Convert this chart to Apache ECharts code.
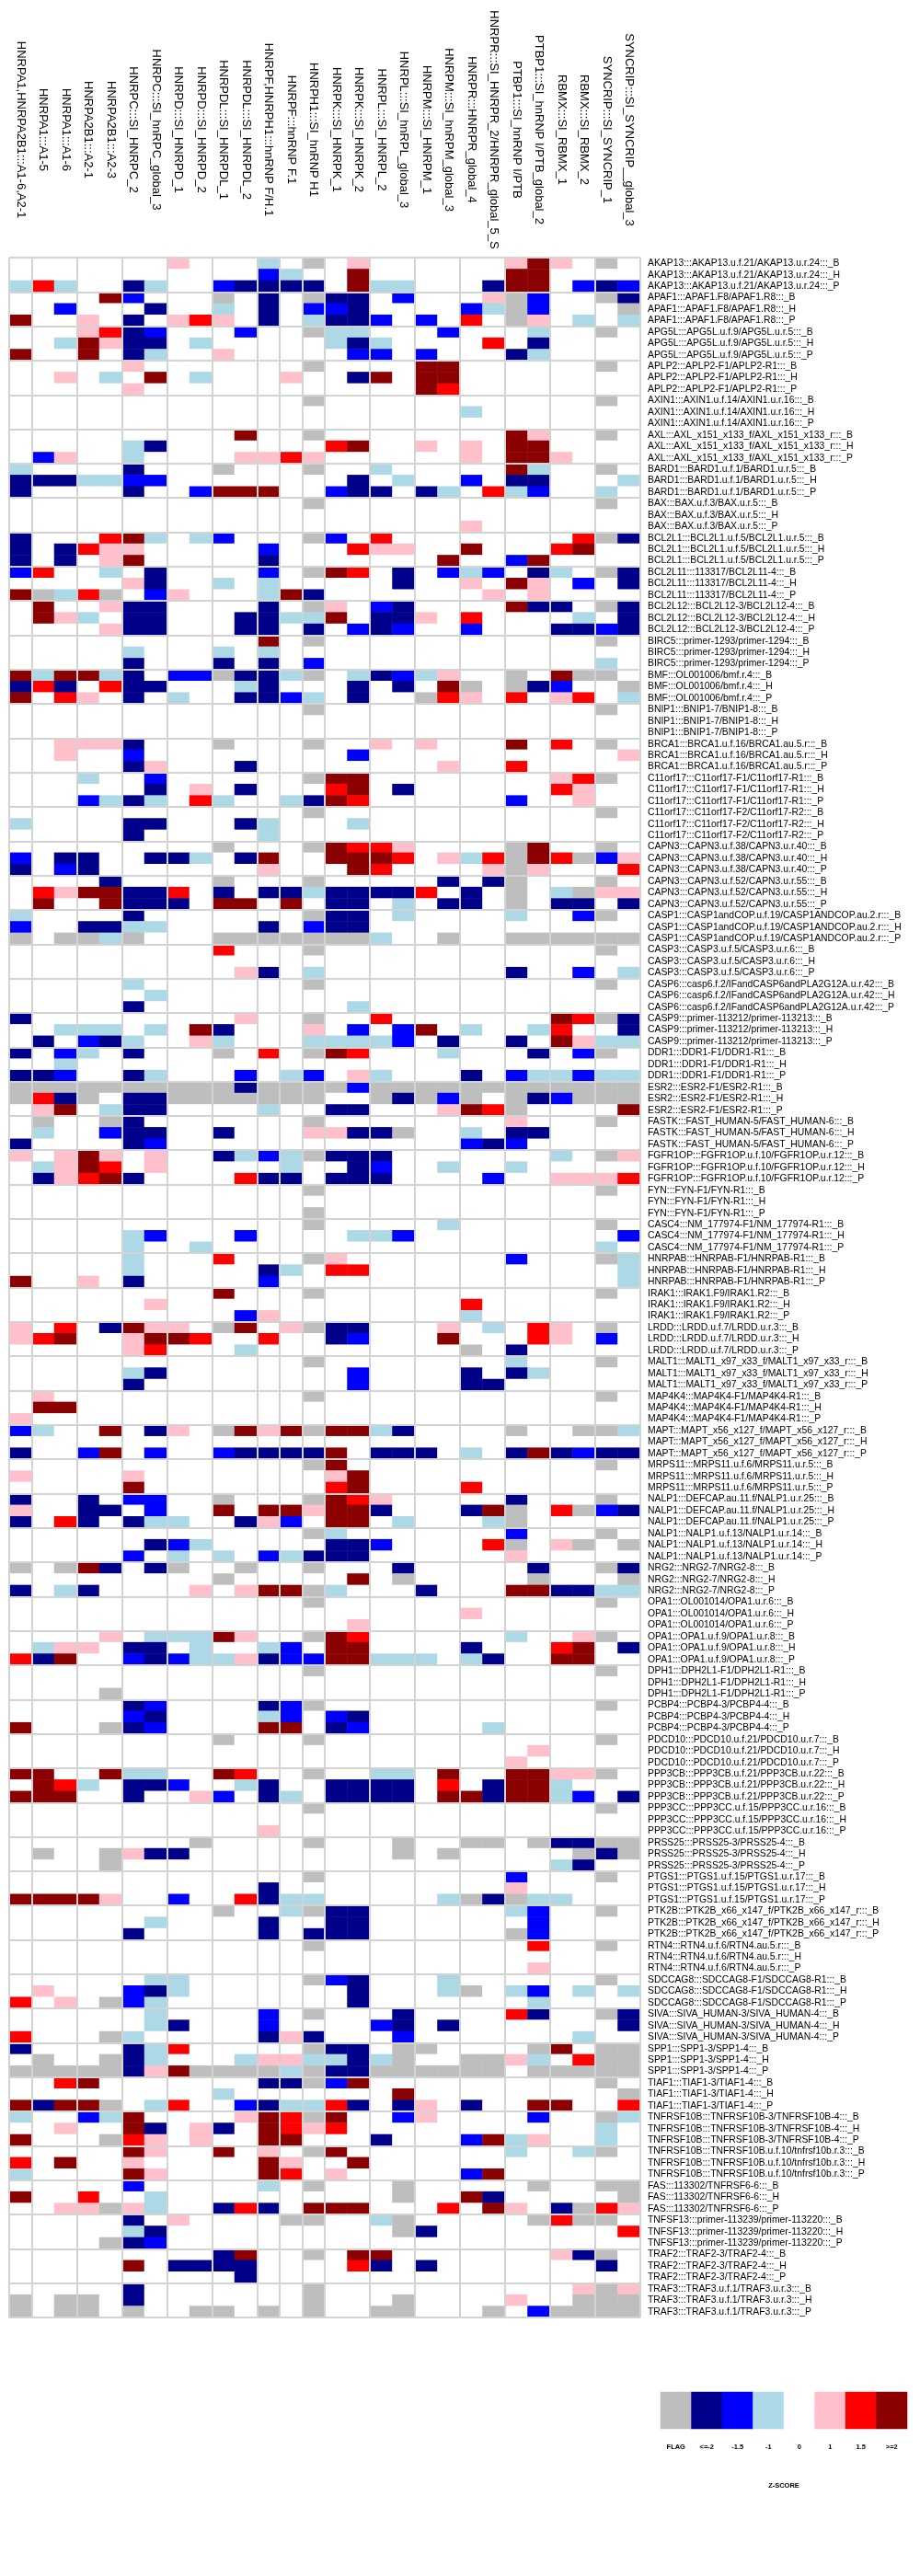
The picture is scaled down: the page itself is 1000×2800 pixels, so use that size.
<!DOCTYPE html>
<html>
<head>
<meta charset="utf-8">
<title>Z-score heatmap</title>
<script src="https://cdn.jsdelivr.net/npm/echarts@6/dist/echarts.min.js"></script>
<style>
html, body { margin: 0; padding: 0; background: #fff; }
#main { width: 1000px; height: 2800px; }
</style>
</head>
<body>
<div id="main"></div>
<script>
var columnLabels = [
    'HNRPA1,HNRPA2B1:::A1-6,A2-1', 'HNRPA1:::A1-5', 'HNRPA1:::A1-6', 'HNRPA2B1:::A2-1', 'HNRPA2B1:::A2-3',
    'HNRPC:::SI_HNRPC_2', 'HNRPC:::SI_hnRPC_global_3', 'HNRPD:::SI_HNRPD_1', 'HNRPD:::SI_HNRPD_2',
    'HNRPDL:::SI_HNRPDL_1', 'HNRPDL:::SI_HNRPDL_2', 'HNRPF,HNRPH1:::hnRNP F/H.1', 'HNRPF:::hnRNP F.1',
    'HNRPH1:::SI_hnRNP H1', 'HNRPK:::SI_HNRPK_1', 'HNRPK:::SI_HNRPK_2', 'HNRPL:::SI_HNRPL_2',
    'HNRPL:::SI_hnRPL_global_3', 'HNRPM:::SI_HNRPM_1', 'HNRPM:::SI_hnRPM_global_3', 'HNRPR:::HNRPR_global_4',
    'HNRPR:::SI_HNRPR_2/HNRPR_global_5_S', 'PTBP1:::SI_hnRNP I/PTB', 'PTBP1:::SI_hnRNP I/PTB_global_2',
    'RBMX:::SI_RBMX_1', 'RBMX:::SI_RBMX_2', 'SYNCRIP:::SI_SYNCRIP_1', 'SYNCRIP:::SI_SYNCRIP__global_3'
];
// last column of each gene group, these get a separator line
var columnGroupEnds = [1, 3, 5, 7, 9, 11, 12, 13, 14, 16, 18, 20, 22, 24, 26, 28];

var assays = [
    'AKAP13:::AKAP13.u.f.21/AKAP13.u.r.24', 'APAF1:::APAF1.F8/APAF1.R8', 'APG5L:::APG5L.u.f.9/APG5L.u.r.5',
    'APLP2:::APLP2-F1/APLP2-R1', 'AXIN1:::AXIN1.u.f.14/AXIN1.u.r.16', 'AXL:::AXL_x151_x133_f/AXL_x151_x133_r',
    'BARD1:::BARD1.u.f.1/BARD1.u.r.5', 'BAX:::BAX.u.f.3/BAX.u.r.5', 'BCL2L1:::BCL2L1.u.f.5/BCL2L1.u.r.5',
    'BCL2L11:::113317/BCL2L11-4', 'BCL2L12:::BCL2L12-3/BCL2L12-4', 'BIRC5:::primer-1293/primer-1294',
    'BMF:::OL001006/bmf.r.4', 'BNIP1:::BNIP1-7/BNIP1-8', 'BRCA1:::BRCA1.u.f.16/BRCA1.au.5.r',
    'C11orf17:::C11orf17-F1/C11orf17-R1', 'C11orf17:::C11orf17-F2/C11orf17-R2', 'CAPN3:::CAPN3.u.f.38/CAPN3.u.r.40',
    'CAPN3:::CAPN3.u.f.52/CAPN3.u.r.55', 'CASP1:::CASP1andCOP.u.f.19/CASP1ANDCOP.au.2.r', 'CASP3:::CASP3.u.f.5/CASP3.u.r.6',
    'CASP6:::casp6.f.2/IFandCASP6andPLA2G12A.u.r.42', 'CASP9:::primer-113212/primer-113213', 'DDR1:::DDR1-F1/DDR1-R1',
    'ESR2:::ESR2-F1/ESR2-R1', 'FASTK:::FAST_HUMAN-5/FAST_HUMAN-6', 'FGFR1OP:::FGFR1OP.u.f.10/FGFR1OP.u.r.12',
    'FYN:::FYN-F1/FYN-R1', 'CASC4:::NM_177974-F1/NM_177974-R1', 'HNRPAB:::HNRPAB-F1/HNRPAB-R1',
    'IRAK1:::IRAK1.F9/IRAK1.R2', 'LRDD:::LRDD.u.f.7/LRDD.u.r.3', 'MALT1:::MALT1_x97_x33_f/MALT1_x97_x33_r',
    'MAP4K4:::MAP4K4-F1/MAP4K4-R1', 'MAPT:::MAPT_x56_x127_f/MAPT_x56_x127_r', 'MRPS11:::MRPS11.u.f.6/MRPS11.u.r.5',
    'NALP1:::DEFCAP.au.11.f/NALP1.u.r.25', 'NALP1:::NALP1.u.f.13/NALP1.u.r.14', 'NRG2:::NRG2-7/NRG2-8',
    'OPA1:::OL001014/OPA1.u.r.6', 'OPA1:::OPA1.u.f.9/OPA1.u.r.8', 'DPH1:::DPH2L1-F1/DPH2L1-R1',
    'PCBP4:::PCBP4-3/PCBP4-4', 'PDCD10:::PDCD10.u.f.21/PDCD10.u.r.7', 'PPP3CB:::PPP3CB.u.f.21/PPP3CB.u.r.22',
    'PPP3CC:::PPP3CC.u.f.15/PPP3CC.u.r.16', 'PRSS25:::PRSS25-3/PRSS25-4', 'PTGS1:::PTGS1.u.f.15/PTGS1.u.r.17',
    'PTK2B:::PTK2B_x66_x147_f/PTK2B_x66_x147_r', 'RTN4:::RTN4.u.f.6/RTN4.au.5.r', 'SDCCAG8:::SDCCAG8-F1/SDCCAG8-R1',
    'SIVA:::SIVA_HUMAN-3/SIVA_HUMAN-4', 'SPP1:::SPP1-3/SPP1-4', 'TIAF1:::TIAF1-3/TIAF1-4',
    'TNFRSF10B:::TNFRSF10B-3/TNFRSF10B-4', 'TNFRSF10B:::TNFRSF10B.u.f.10/tnfrsf10b.r.3', 'FAS:::113302/TNFRSF6-6',
    'TNFSF13:::primer-113239/primer-113220', 'TRAF2:::TRAF2-3/TRAF2-4', 'TRAF3:::TRAF3.u.f.1/TRAF3.u.r.3'
];
var tissues = ['B', 'H', 'P'];

// z-score class per cell, one line per row, spaces only split the gene groups
// F flag, n <=-2, b -1.5, l -1, . 0, p 1, r 1.5, d >=2
var zRows = [
    '. .. .. .. p. .. l . F .p .. .. .. pd p. F.',
    '. .. .. .. .. .. b l . .d .. .. .. dd .. ..',
    'l rl .. nl .. bn n n n .d ll .. .n dd .b nb',
    '. .. .d b. .. F. n . F nn .b .. .p Fb .. Fn',
    '. .b .. .n .. l. n . b bn .. .. bl Fb .. .F',
    'd .. p. n. pr p. n . l nn b. b. r. Fp .l .l',
    '. .. pr nb .. .b . . F ll .. .b .. .l .. F.',
    '. .l dp nn .l .. . . . ln l. .. .r .n .. ..',
    'd .. d. nl .. p. . . . .b b. b. .. nl .. ..',
    '. .. .. p. .. .. . . F .. .. dd .. .. .. F.',
    '. .p .l .d .l .. . p . .n d. dd .. .. .. ..',
    '. .. .. p. .. .. . . . .. .. dr .. .. .. ..',
    '. .. .. .. .. .. . . F .. .. .. .. .. .. F.',
    '. .. .. .. .. .. . . . .. .. .. l. .. .. ..',
    '. .. .. .. .. .. . . . .. .. .. .. .. .. ..',
    '. .. .. .. .. .d . . F .. .. .. .. dp .. F.',
    '. .. .. ln .. .. . . . rd .. p. p. dd .. ..',
    '. bp .. l. .. .p p r p .. .. .. p. dd p. ..',
    'l .. .. n. .. F. . . F .. l. .. .. dl .. F.',
    'n nn ll bb .. .. . . . .n .l .. b. nn .. .l',
    'n .. .. n. .b dd d . . bn n. nl .r lb .. l.',
    '. .. .. .. .. .. . . F .. .. .. .. .. .. F.',
    '. .. .. .. .. .. . . . .. .. .. .. .. .. ..',
    '. .. .. .. .. .. . . . .. .. .. p. .. .. ..',
    'n .. .r dl .l b. . . F b. r. .. .. .. .r Fn',
    'n .n rp p. .. .. b . . .r pp .. d. .. rd ..',
    'n .n .p d. .. .. n . . .. .. .d .. bd .. ..',
    'b r. .l .n .. .. b . F dr .n .b lb .n l. Fn',
    '. .. .. pn .. l. l . . .. .n .. p. dp .b .n',
    'd Fl rF .b p. .. l d n .. .. .. .p .p .. ..',
    '. d. .p nn .. .. n . F p. bn .. .. dn n. Fn',
    '. dp l. nn .. .n n l l d. nn p. r. .. .l .n',
    '. .. .p nn .. .n n . n .b nb .. b. .. nn bn',
    '. .. .. .. .. .. d . F .. .. .. .. .. .. F.',
    '. .. .. l. .. l. l . . .. .. .. .. .. .. ..',
    '. .. .. n. .. n. n . b .. .. .. .. .. .. l.',
    'd ld dl n. bb Fn n l F .l nb lp .. F. dF F.',
    'n rn .r nn .. .l n . . .n .n .d F. Fn b. .F',
    'd .r p. n. l. .n n b l .n .. Fr p. r. pr .l',
    '. .. .. .. .. .. . . F .. .. .. .. .. .. F.',
    '. .. .. .. .. .. . . . .. .. .. .. .. .. ..',
    '. .. .. .. .. .. . . . .. .. .. .. .. .. ..',
    '. .p pp n. .. F. . . F .. p. p. .. d. r. F.',
    '. .p .. b. .. .. . . . .b .. .. .. .. .. .p',
    '. .. .. np .. .n . . . .. .. .p .. r. .. ..',
    '. .. l. .b .. .. . . F dd .. .. .. .. pr F.',
    '. .. .. .n .p .n . . . rd .n .. .. .. rp ..',
    '. .. bl nl .r l. . l n dr .. .. .. b. .p ..',
    '. .. .. .. .. .. . . F .. .. .. .. .. .. F.',
    'l .. .. nn .. .n l . . .l .. .. .. .. .. ..',
    '. .. .. n. .. .. l . . .. .. .. .. .. .. ..',
    '. .. .. .. .. F. . . F dr rp .. .. Fd .. F.',
    'b .n n. .n nl .n d . . dd dr .p lr Fd rF bp',
    'n .b n. .. .. .. p . . .d r. .. .p Fp .. .r',
    '. .. .n .. .. F. . . F .. .. .n .n F. .. F.',
    '. rp dd nn r. n. n n l nn nn r. n. F. lF pp',
    '. d. .d nn n. dd . d . nn .l .n n. F. nn .n',
    'l .. .. n. .. .. . . F nn .l .. .. l. .b F.',
    'b .. nn ll .. .. n . b nn .. .. .. .. .. ..',
    'F .F Fl F. .. FF F F F FF l. .F .. FF FF FF',
    '. .. .. .. .. r. . . F .. .. .. .. .. .. F.',
    '. .. .. .. .. .. . . . .. .. .. .. .. .. ..',
    '. .. .. .. .. .p n . l .. .. .. .. n. .b .l',
    '. .. .. l. .. .. . . F .. .. .. .. .. .. F.',
    '. .. .. .l .. .. . . . .. .. .. .. .. .. ..',
    '. .. .. n. .. .. . . . .l .. .. .. .. .. ..',
    'n .. .. .. .. .p . . F .. r. .. .. .. dr Fn',
    '. .l ll .l .d n. . . p .b .b d. l. .l r. .n',
    '. n. bn l. .p l. . . l ll lb .n .. n. dp ll',
    'n .b l. n. .. F. r . F dr .. .l .. .n .b F.',
    '. .l .. .. .. .. . . . .. .. .. .. .. .. ..',
    'n nb .. nl .. .b . l b .p l. .. n. bl lb ll',
    'F FF FF FF FF Fn F F F Fb FF FF FF FF FF FF',
    'F rn F. nn FF FF F F F .. Fn Fb F. Fn bF FF',
    '. pd .l nn .. .. l . . nn .. .p dr F. .. .d',
    '. F. .F n. .. .. . . F .. .. .. .. p. .. F.',
    '. l. .b nn .. n. . . p pn nF .. l. nn .. ..',
    'n .. .. nb .. .. . . . .. .. .. bn b. .. ..',
    'p .p dp .p .. nl b l F nn n. .. .. .. l. Fp',
    '. lp dr .p .. .. . l . .n b. .l .. l. .. ..',
    '. np rd n. .. .r n n . nn n. .. .b .. pp pr',
    '. .. .. .. .. .. . . F .. .. .. .. .. .. F.',
    '. .. .. .. .. .. . . . .. .. .. .. .. .. ..',
    '. .. .. .. .. .. . . F .. .. .. .. .. .. ..',
    '. .. .. .. .. .. . . F .. .. .l .. .. .. F.',
    '. .. .. lb .. .b . . . .l lb .. .. .. .. .b',
    '. .. .. l. .l .. . . . .. .. .. .. .. .. l.',
    '. .. .. l. .. r. . . F p. .. .. .. b. .. Fl',
    '. .. .. l. .. .. n l . rr .. .. .. .. .. .l',
    'd .. p. n. .. .. b . . .. .. .. .. .. .. .l',
    '. .. .. .. .. d. . . F .. .. .. .. .. .. F.',
    '. .. .. .p .. .. . . . .. .. .. r. .. .. ..',
    '. .. .. .. .. .b p . . .. .. .. l. .. .. ..',
    'p .r .n dp p. Fd . p F nn .. .p .l .r p. F.',
    'p rd .. pd dr .. r . . nb .. .d .. .r p. b.',
    '. .. .. pr .. .l . . . .. .. .. F. n. .. ..',
    '. .. .. .. .. .. . . F .. .. .. .. l. .. F.',
    '. .. .. ln .. .. . . . .b .. .. n. nl .. ..',
    '. .. .. n. .. .. . . . .b .. .. nn .. .. ..',
    '. p. .. .. .. .. . . F .. .. .. .. .. .. F.',
    '. dd .. .. .. .. . . . .. .. .. .. .. .. ..',
    'p .. .. .. .. .. . . . .. .. .. .. .. .. ..',
    'b l. .d .n p. Fd p d F dd ln .. .. F. .F Fl',
    '. .. .. .. .. .. . . . .. .. .. .. .. .. ..',
    'n .. bd .b .. bn n n n d. nn n. l. nd nb nn',
    '. .. .. .. .. .. . . F d. .. .. .. .. .. F.',
    'p .. .. p. .. .. . . . pd .. .. .. .. .. ..',
    '. .. .. d. .. .. . . . rd .. .. r. .. .. ..',
    'n .. n. bb .. F. . . F dr p. .. .. n. .. F.',
    'p .. nn .b .. d. d d p dd n. .. nd F. rF bn',
    'n .r n. nl l. .n p b . dd .l .. .l F. .. ..',
    '. .. .. .. .. .. . . F l. .. .. .. b. .. F.',
    '. .. .. .n bl .. . . . nn b. .. .r F. pF .F',
    '. .. .. b. l. l. b l n nn .. .. .. p. .. ..',
    'F .F dn .n F. .F . . F .. .n .. .. .n .. Fn',
    '. .. .. .. .. F. . . . .d .F .. .. .F .. .F',
    'n .l n. .. .p .p d d F l. .. n. .. dd nn ll',
    '. .. .. .. .. .. . . F .. .. .. .. .. .. F.',
    '. .. .. .. .. .. . . . .. .. .. p. .. .. ..',
    '. .. .. .. .. .. . . . .p .. .. .. .. .. ..',
    '. .. .p .l ll dp . . F dr .. .. .. l. .p F.',
    '. lp p. nn .l .. l b . dd .. .. n. .. rd .n',
    'r nd .. bn bl lp n b b dd ll l. ln .. dd ..',
    '. .. .. .. .. .. . . F .. .. .. .. .. .. F.',
    '. .. .. .. .. .. . . . .. .. .. .. .. .. ..',
    '. .. .F .. .. .. . . . .. .. .. .. .. .. ..',
    '. .. .. nb .. .. n b F .. .. .. .. .. .. F.',
    '. .. .. bn .. .. l b . bn .. .. .. .. .. ..',
    'd .. .F nb .. .. d d . nb .. .. .l .. .. ..',
    '. .. .. .. .. F. . . F .. .. .. .. .. .. F.',
    '. .. .. .. .. .. . . . .. .. .. .. .p .. ..',
    '. .. .. .. .. .. . . . .. .. .. .. p. .. ..',
    'd d. .d ll .. dr . . F .. ll .d .. dd pp F.',
    '. dr l. nn b. .l n . . nn nn .r .n dd l. ..',
    'd dd .. n. .p b. n l . nn nn .d dn dd lb .n',
    '. .. .. .. .. .. . . F .. .. .. .. .. .. F.',
    '. .. .. .. .. .. . . . .. .. .. .. .. .. ..',
    '. .. .. .. .. .. p . . .. .. .. .. .. .. ..',
    '. .. .. .. .F .. . . F .. .F .. FF .F nn FF',
    '. F. .F pn n. .. . . . .. .F .F .. .. .F nF',
    '. .. .F .. .. .. . . . .. .. .. .. .. ln ..',
    '. .. .. .. .. .. . . F .. .. .. .. b. .. F.',
    '. .. .. .. .. .. n . . .. .. .. .. p. .. ..',
    'd dd dp .. b. .r n l l .. .. .l Fn Fl l. ..',
    '. .. .. .. .. F. . l F nn .. .. .. lb .. F.',
    '. .. .. .l .. .. n . . nn .. .. .. .b .. ..',
    '. .. .. n. .. .. n . n nn .. .. .. Fb .. ..',
    '. .. .. .. .. .. . . F .. .. .. .. .r .. F.',
    '. .. .. .. .. .. . . . .. .. .. .. .. .. ..',
    '. .. .. .. .. .. . . . .. .. .. .. .p .. ..',
    '. .. .. .l l. .. . . F bn .. .l .. .. .. F.',
    '. p. .. bn l. .. . . . .n .. .l F. lb .l .l',
    'r .p .F bl .. .. . . . .n .. .. .. .l .. ..',
    '. .. .. .l .. .. b . F .. .n .. .. rn .. Fn',
    '. .. .. .l n. .. b . . .. bn .n .. .. .. .n',
    'r .. .F l. .. .. n p n .. .b .. .. .. .l ..',
    'n .. .. nl r. .. . . F nn .F F. .. .F d. FF',
    '. F. .F nl .. .l p p l ln lF .. FF pl .r FF',
    'F FF FF np dF FF F l F nn FF FF FF .F FF FF',
    '. .r d. .. .. .. n n F bd .. .. .. .. .. F.',
    '. .. .. .. .. l. . . . .. .d .. .. .. .. .F',
    'd nd dF .l r. .b n l l rn .n p. n. .d d. .r',
    'l .. bl d. .. .p d r F d. .b p. .. .b .. Fl',
    '. .p .. dn .p n. d r p r. .. .. .. .. .. l.',
    'd .. .F rp .p .. d d . .. n. .. bd lp .. l.',
    '. .. .. dp .. d. p . F d. .. .. .. l. .l F.',
    'r .d .. p. .. .. d p . .d .. .. .. .. .. ..',
    'l .. .. dp .. .. d r . p. .. .. bd .. .. ..',
    '. .. .. b. .. .. l . F .. .F .. .. .F .. FF',
    'd .. r. .l .. .. . . . .. .F .. dn .. .. .F',
    '. .p pF pl .. nr n . d dd .. .r .d p. nF rp',
    '. .. .. n. p. .. . F F .. lF .. .. .F rF F.',
    '. .. .. ln .. .. . . . .. .F n. .. .. .. .r',
    '. .. .F nb .. .. . . . .. .. .. .. .. .. ..',
    '. .. .. .. .. nd . . F .d d. .. .. .. pn F.',
    '. .. .. d. nn nn . . . .r n. n. .. .. .. n.',
    '. .. .. .. .. .n . . . .. .. .. .. .. .. ..',
    '. .. .. n. .. .. . . F .. .. .. .. .. .p Fp',
    'F .F F. n. .. .. . . F .. .F .. .. p. .F FF',
    'F .F F. F. .F F. F . F .. FF .. .F .b FF FF'
];

var legendLabels = ['FLAG', '<=-2', '-1.5', '-1', '0', '1', '1.5', '>=2'];
var legendColors = ['#bebebe', '#00008b', '#0000ff', '#add8e6', '#ffffff', '#ffc0cb', '#ff0000', '#8b0000'];
var zCodes = 'Fnbl.prd';

var chart = echarts.init(document.getElementById('main'), null, { renderer: 'canvas' });

var rowLabels = [];
assays.forEach(function (a) {
    tissues.forEach(function (t) {
        rowLabels.push(a + ':::_' + t);
    });
});

var cells = [];
zRows.forEach(function (row, y) {
    var codes = row.replace(/ /g, '');
    for (var x = 0; x < codes.length; x++) {
        cells.push([x, y, zCodes.indexOf(codes[x])]);
    }
});

var legendCells = legendLabels.map(function (l, i) {
    return [i, 0, i];
});

var gridLine = { color: '#d3d3d3', width: 2 };

chart.setOption({
    animation: false,
    backgroundColor: '#fff',
    grid: [
        { left: 10, top: 280, width: 686, height: 2239 },
        { left: 718, top: 2600, width: 268, height: 40 }
    ],
    visualMap: {
        show: false,
        type: 'piecewise',
        dimension: 2,
        seriesIndex: [0, 1],
        pieces: legendColors.map(function (c, i) {
            return { value: i, color: c };
        })
    },
    xAxis: [{
        type: 'category',
        gridIndex: 0,
        position: 'top',
        data: columnLabels,
        z: 5,
        axisLine: { show: false },
        axisTick: { show: false },
        axisLabel: {
            interval: 0,
            rotate: 90,
            align: 'center',
            verticalAlign: 'middle',
            margin: 139,
            padding: [0, 0, 3, 0],
            fontFamily: 'Liberation Sans',
            fontSize: 13,
            color: '#000'
        },
        splitLine: {
            show: true,
            lineStyle: gridLine,
            interval: function (i) {
                return i === 0 || columnGroupEnds.indexOf(i) >= 0;
            }
        }
    }, {
        type: 'category',
        gridIndex: 1,
        position: 'bottom',
        data: legendLabels,
        name: 'Z-SCORE',
        nameLocation: 'middle',
        nameGap: 58,
        nameTextStyle: { fontFamily: 'Liberation Sans', fontSize: 7.5, fontWeight: 'bold', color: '#000' },
        axisLine: { show: false },
        axisTick: { show: false },
        axisLabel: {
            interval: 0,
            margin: 16,
            fontFamily: 'Liberation Sans',
            fontSize: 7.5,
            fontWeight: 'bold',
            color: '#000'
        }
    }],
    yAxis: [{
        type: 'category',
        gridIndex: 0,
        position: 'right',
        inverse: true,
        data: rowLabels,
        z: 5,
        axisLine: { show: false },
        axisTick: { show: false },
        axisLabel: {
            interval: 0,
            margin: 8,
            fontFamily: 'Liberation Sans',
            fontSize: 10.4,
            color: '#000'
        },
        splitLine: {
            show: true,
            lineStyle: gridLine,
            interval: function (i) {
                return i % 3 === 0;
            }
        }
    }, {
        type: 'category',
        gridIndex: 1,
        data: ['z'],
        axisLine: { show: false },
        axisTick: { show: false },
        axisLabel: { show: false }
    }],
    series: [{
        type: 'heatmap',
        xAxisIndex: 0,
        yAxisIndex: 0,
        data: cells,
        progressive: 0,
        itemStyle: { borderWidth: 0 },
        emphasis: { disabled: true }
    }, {
        type: 'heatmap',
        xAxisIndex: 1,
        yAxisIndex: 1,
        data: legendCells,
        itemStyle: { borderWidth: 0 },
        emphasis: { disabled: true }
    }]
});
</script>
</body>
</html>
